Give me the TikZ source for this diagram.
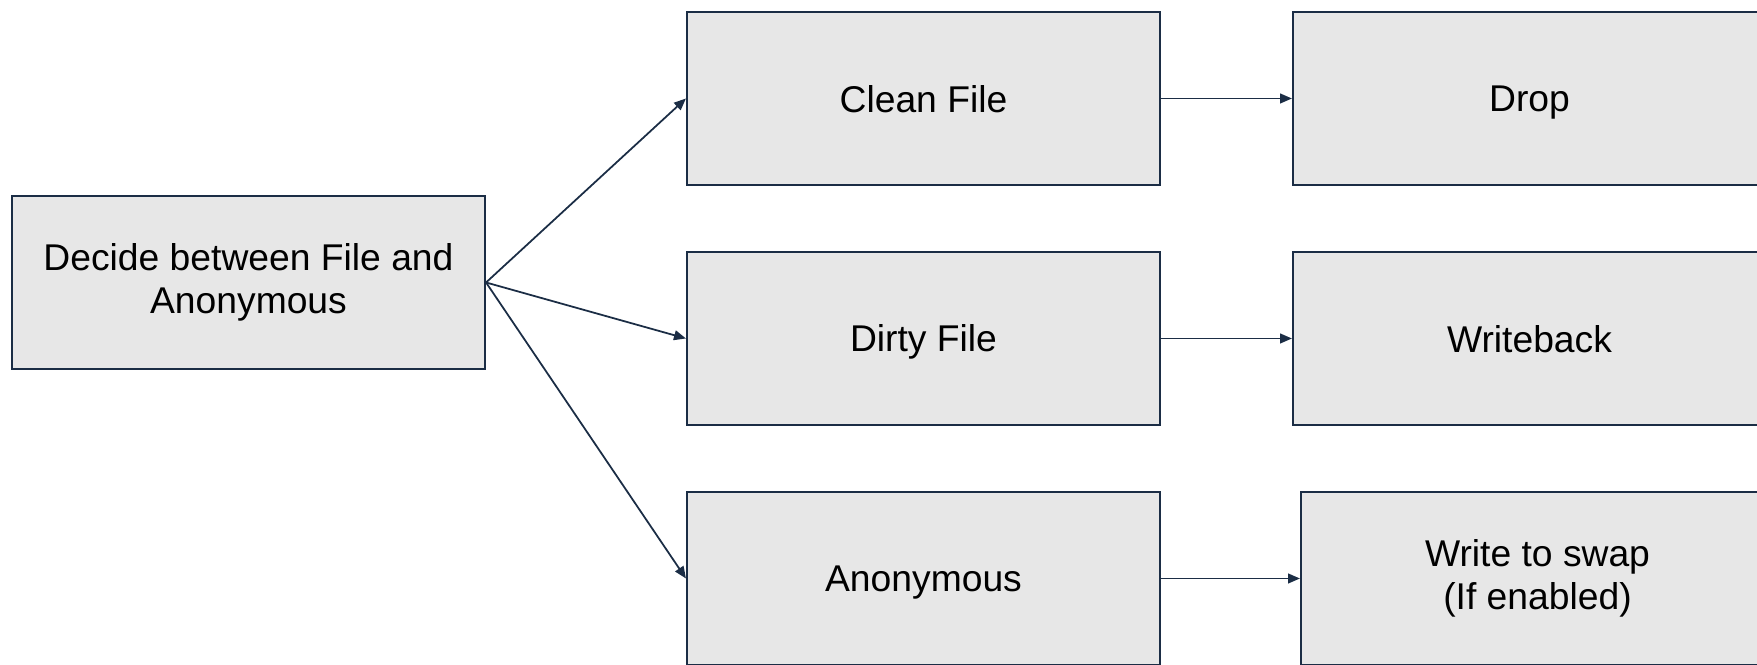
\documentclass[tikz,border=0pt]{standalone}
\usepackage{fontspec}
\setmainfont{Liberation Sans}
\usetikzlibrary{arrows.meta,positioning}
\definecolor{boxfill}{HTML}{E7E7E7}
\definecolor{navy}{HTML}{1B2D45}
\newcommand{\boxstrut}{\rule[-2pt]{0pt}{11.7pt}}
\tikzset{
  stagebox/.style={draw=navy, line width=0.6pt, fill=boxfill, inner sep=0pt,
                   minimum width=4.73cm, minimum height=1.73cm, align=center,
                   font=\fontsize{10.6}{12.4}\selectfont,
                   execute at begin node=\boxstrut, execute at end node=\boxstrut},
  arr/.style={-{Triangle[length=3.4pt, width=2.8pt]}, line width=0.5pt, color=navy}}
\begin{document}
\begin{tikzpicture}
  \useasboundingbox (0,0) rectangle (17.57,-6.65);
  \clip (0,0) rectangle (17.57,-6.65);
  \node[stagebox] (decide) at (2.485,-2.825) {Decide between File and\\Anonymous};
  \node[stagebox] (clean) at (9.235,-0.985) {Clean File};
  \node[stagebox] (dirty) at (9.235,-3.385) {Dirty File};
  \node[stagebox] (anon) at (9.235,-5.785) {Anonymous};
  \node[stagebox] (drop) at (15.295,-0.985) {Drop};
  \node[stagebox] (wb) at (15.295,-3.385) {Writeback};
  \node[stagebox] (swap) at (15.375,-5.785) {Write to swap\\(If enabled)};
  \draw[arr] (decide.east) -- (clean.west);
  \draw[arr] (decide.east) -- (dirty.west);
  \draw[arr] (decide.east) -- (anon.west);
  \draw[arr] (clean) -- (drop);
  \draw[arr] (dirty) -- (wb);
  \draw[arr] (anon) -- (swap);
\end{tikzpicture}
\end{document}
